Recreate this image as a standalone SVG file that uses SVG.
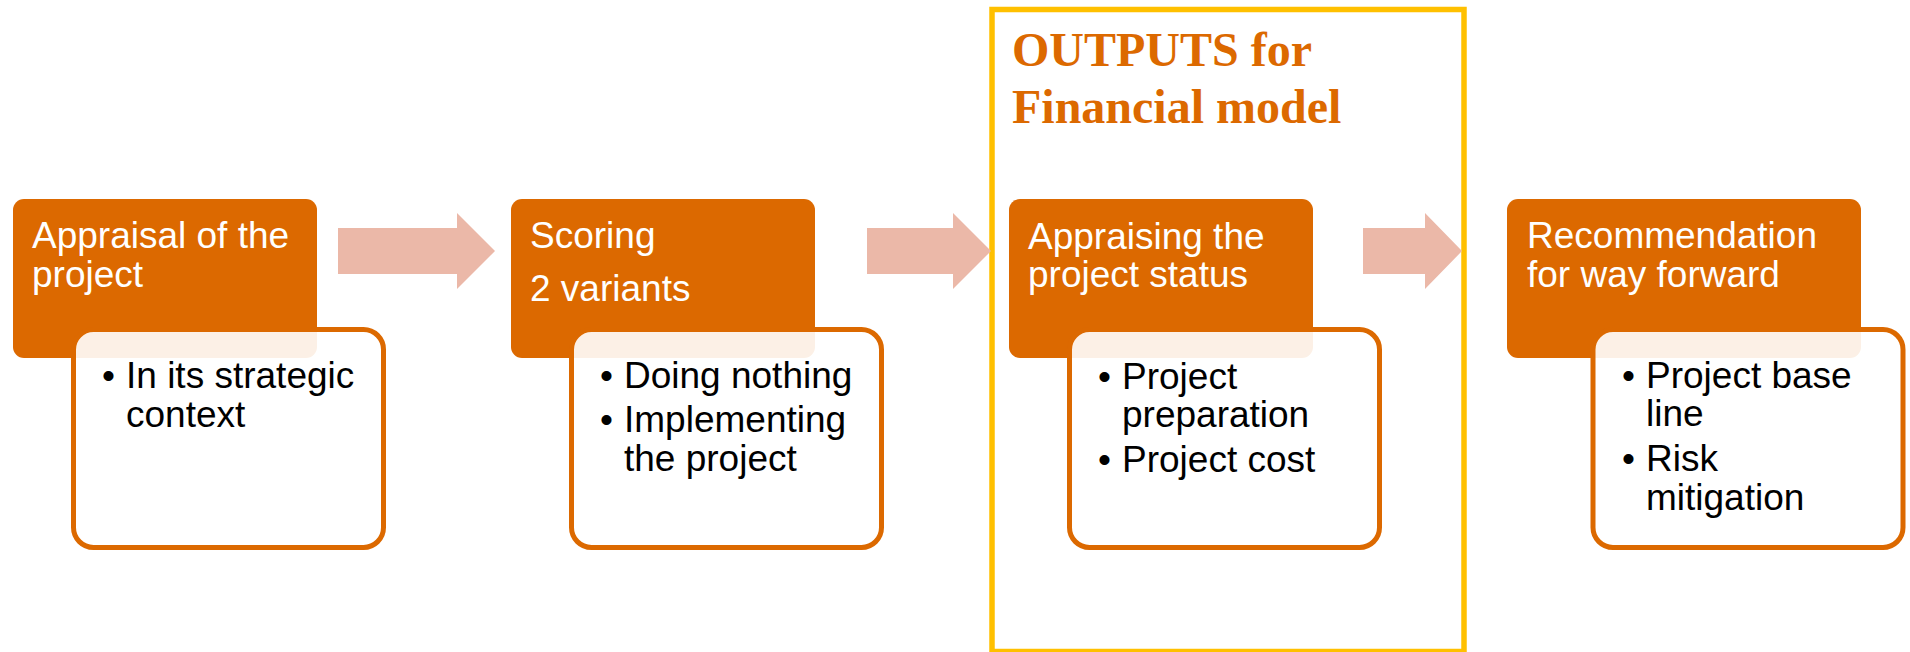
<svg xmlns="http://www.w3.org/2000/svg" width="1910" height="652" viewBox="0 0 1910 652">
<defs>
<style>
.head{fill:#DC6900;}
.sub{fill:#FFFFFF;fill-opacity:0.9;stroke:#DC6900;stroke-width:5;}
.ht{font-family:"Liberation Sans",Arial,sans-serif;font-size:37px;fill:#FFFFFF;}
.bt{font-family:"Liberation Sans",Arial,sans-serif;font-size:37px;fill:#000000;}
.arrow{fill:#EBB8A8;}
.title{font-family:"Liberation Serif","Times New Roman",serif;font-size:48px;font-weight:bold;fill:#DC6900;}
</style>
</defs>
<rect width="1910" height="652" fill="#FFFFFF"/>
<g id="outputs-frame">
<rect x="992" y="9.5" width="472" height="642" fill="none" stroke="#FFC000" stroke-width="5.5"/>
<text class="title" x="1012" y="66">OUTPUTS for</text>
<text class="title" x="1012" y="123">Financial model</text>
</g>
<g id="connectors">
<polygon class="arrow" points="338,228 457,228 457,213 495,251 457,289 457,274 338,274"/>
<polygon class="arrow" points="867,228 953,228 953,213 991,251 953,289 953,274 867,274"/>
<polygon class="arrow" points="1363,228 1425,228 1425,213 1462,251 1425,289 1425,274 1363,274"/>
</g>
<g id="node1">
<rect class="head" x="13" y="199" width="304" height="159" rx="11"/>
<text class="ht" x="32" y="248">Appraisal of the</text>
<text class="ht" x="32" y="286.5">project</text>
<rect class="sub" x="73.5" y="329.5" width="310" height="218" rx="20"/>
<text class="bt" x="102" y="388">•</text>
<text class="bt" x="126" y="388">In its strategic</text>
<text class="bt" x="126" y="426.5">context</text>
</g>
<g id="node2">
<rect class="head" x="511" y="199" width="304" height="159" rx="11"/>
<text class="ht" x="530" y="248">Scoring</text>
<text class="ht" x="530" y="301">2 variants</text>
<rect class="sub" x="571.5" y="329.5" width="310" height="218" rx="20"/>
<text class="bt" x="600" y="387.5">•</text>
<text class="bt" x="624" y="387.5">Doing nothing</text>
<text class="bt" x="600" y="432">•</text>
<text class="bt" x="624" y="432">Implementing</text>
<text class="bt" x="624" y="471">the project</text>
</g>
<g id="node3">
<rect class="head" x="1009" y="199" width="304" height="159" rx="11"/>
<text class="ht" x="1028" y="249">Appraising the</text>
<text class="ht" x="1028" y="287">project status</text>
<rect class="sub" x="1069.5" y="329.5" width="310" height="218" rx="20"/>
<text class="bt" x="1098" y="389">•</text>
<text class="bt" x="1122" y="389">Project</text>
<text class="bt" x="1122" y="427">preparation</text>
<text class="bt" x="1098" y="472">•</text>
<text class="bt" x="1122" y="472">Project cost</text>
</g>
<g id="node4">
<rect class="head" x="1507" y="199" width="354" height="159" rx="11"/>
<text class="ht" x="1527" y="248">Recommendation</text>
<text class="ht" x="1527" y="286.5">for way forward</text>
<rect class="sub" x="1593" y="329.5" width="310" height="218" rx="20"/>
<text class="bt" x="1622" y="387.5">•</text>
<text class="bt" x="1646" y="387.5">Project base</text>
<text class="bt" x="1646" y="426">line</text>
<text class="bt" x="1622" y="471">•</text>
<text class="bt" x="1646" y="471">Risk</text>
<text class="bt" x="1646" y="509.5">mitigation</text>
</g>
</svg>
